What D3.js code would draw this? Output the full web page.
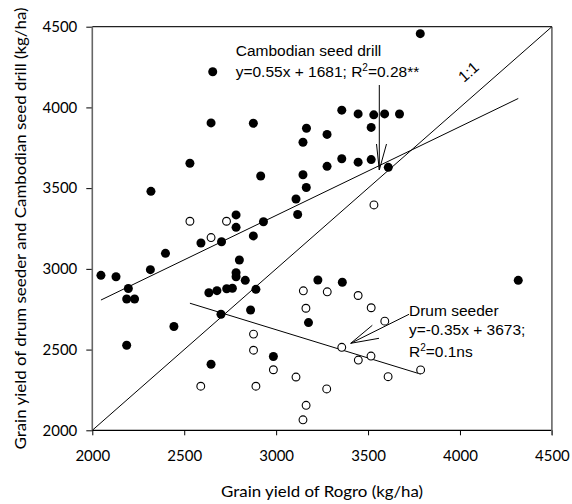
<!DOCTYPE html>
<html>
<head>
<meta charset="utf-8">
<script src="https://cdn.jsdelivr.net/npm/d3@7"></script>
<style>
  body { margin: 0; background: #fff; }
  svg { display: block; }
  .tick text { font-family: Lato, sans-serif; font-size: 15px; fill: #000; }
  .title { font-family: Lato, sans-serif; font-size: 16px; fill: #000; }
  .note { font-family: "Liberation Sans", Arial, sans-serif; font-size: 15.5px; fill: #000; }
</style>
</head>
<body>
<div class="scatter"></div>
<script>
(function() {
  'use strict';

  // Cambodian seed drill (filled) vs Rogro
  var drillX = [2655, 2646, 2876, 3165, 3146, 2531, 2916, 3146, 3164, 2319,
                3108, 3117, 2782, 2782, 2931, 2876, 2703, 2591, 2398, 2316,
                2047, 2129, 2196, 2187, 2230, 2800, 2782, 2782, 2832, 2634,
                2678, 2731, 2762, 2890, 2861, 2700, 2444, 2187, 2646, 2985,
                3227, 3360, 3176, 4317, 3784, 3357, 3446, 3531, 3590, 3671,
                3517, 3277, 3357, 3277, 3446, 3517, 3610];
  var drillY = [4221, 3904, 3902, 3871, 3784, 3654, 3575, 3583, 3504, 3480,
                3433, 3337, 3334, 3257, 3292, 3204, 3168, 3160, 3096, 2995,
                2960, 2951, 2878, 2813, 2813, 3055, 2976, 2951, 2929, 2852,
                2865, 2877, 2880, 2873, 2745, 2719, 2643, 2527, 2409, 2457,
                2931, 2917, 2667, 2929, 4457, 3983, 3960, 3954, 3960, 3959,
                3876, 3833, 3682, 3635, 3661, 3677, 3629];

  // Drum seeder (open) vs Rogro
  var drumX = [2531, 2730, 2646, 3532, 3148, 3278, 3446, 3517, 3162, 3591,
               3357, 3447, 3516, 3786, 3609, 3275, 3163, 3146, 2877, 2877,
               2590, 2890, 2985, 3108];
  var drumY = [3295, 3295, 3194, 3396, 2864, 2858, 2835, 2759, 2756, 2676,
               2514, 2435, 2460, 2374, 2332, 2256, 2155, 2065, 2596, 2496,
               2273, 2273, 2375, 2330];

  var xTicks = [2000, 2500, 3000, 3500, 4000, 4500];
  var yTicks = [2000, 2500, 3000, 3500, 4000, 4500];

  // fitted lines from the figure (slope, intercept)
  var drillFit = [0.55, 1681];
  var drumFit = [-0.35, 3673];

  var width = 572;
  var height = 504;
  var left = 92.3, top = 26.7, right = 551.9, bottom = 430.3;

  var svg = d3.select(".scatter").append("svg")
    .attr("width", width)
    .attr("height", height);

  var x = d3.scaleLinear().domain([2000, 4500]).range([left, right]);
  var y = d3.scaleLinear().domain([2000, 4500]).range([bottom, top]);

  // axes
  var xAxis = svg.append("g")
    .attr("transform", "translate(0," + bottom + ")")
    .call(d3.axisBottom(x).tickValues(xTicks).tickSize(5).tickPadding(15.4).tickFormat(d3.format("d")));
  xAxis.select(".domain").remove();
  xAxis.selectAll(".tick line").attr("stroke", "#000");

  var yAxis = svg.append("g")
    .attr("transform", "translate(" + left + ",0)")
    .call(d3.axisLeft(y).tickValues(yTicks).tickSize(6).tickPadding(9).tickFormat(d3.format("d")));
  yAxis.select(".domain").remove();
  yAxis.selectAll(".tick line").attr("stroke", "#000");

  // frame
  svg.append("line").attr("x1", left).attr("x2", right).attr("y1", bottom).attr("y2", bottom)
    .attr("stroke", "#000").attr("stroke-width", 1.2);
  svg.append("line").attr("x1", left).attr("x2", right).attr("y1", top).attr("y2", top)
    .attr("stroke", "#222").attr("stroke-width", 1.2);
  svg.append("line").attr("x1", left).attr("x2", left).attr("y1", top).attr("y2", bottom)
    .attr("stroke", "#666").attr("stroke-width", 1.6);
  svg.append("line").attr("x1", right).attr("x2", right).attr("y1", top).attr("y2", bottom + 5)
    .attr("stroke", "#666").attr("stroke-width", 1.6);

  var line = d3.line()
    .x(function(d) { return x(d[0]); })
    .y(function(d) { return y(d[1]); });

  // 1:1 line
  svg.append("path")
    .attr("d", line([[2000, 2000], [4500, 4500]]))
    .attr("fill", "none").attr("stroke", "#000").attr("stroke-width", 1);

  // regression lines over the range of each series
  function fitLine(xs, fit) {
    var ext = d3.extent(xs);
    return ext.map(function(v) { return [v, fit[0] * v + fit[1]]; });
  }

  svg.append("path")
    .attr("d", line(fitLine(drillX, drillFit)))
    .attr("fill", "none").attr("stroke", "#000").attr("stroke-width", 1);
  svg.append("path")
    .attr("d", line(fitLine(drumX, drumFit)))
    .attr("fill", "none").attr("stroke", "#000").attr("stroke-width", 1);

  // points
  svg.append("g").selectAll("circle")
    .data(drumX)
    .enter().append("circle")
    .attr("cx", function(d) { return x(d); })
    .attr("cy", function(d, i) { return y(drumY[i]); })
    .attr("r", 3.9)
    .attr("fill", "#fff")
    .attr("stroke", "#000")
    .attr("stroke-width", 1.1);

  svg.append("g").selectAll("circle")
    .data(drillX)
    .enter().append("circle")
    .attr("cx", function(d) { return x(d); })
    .attr("cy", function(d, i) { return y(drillY[i]); })
    .attr("r", 4.5)
    .attr("fill", "#000");

  // annotations
  svg.append("text").attr("class", "note").attr("x", 235.7).attr("y", 56)
    .text("Cambodian seed drill");
  var eq1 = svg.append("text").attr("class", "note").attr("x", 235.7).attr("y", 77);
  eq1.append("tspan").text("y=0.55x + 1681; R");
  eq1.append("tspan").attr("dy", -6).attr("font-size", 10).text("2");
  eq1.append("tspan").attr("dy", 6).text("=0.28**");

  svg.append("path")
    .attr("d", "M379.3,85L379.3,170M376.5,144L379.3,170L386.5,144")
    .attr("fill", "none").attr("stroke", "#000").attr("stroke-width", 1);

  svg.append("text").attr("class", "note")
    .attr("text-anchor", "middle")
    .attr("transform", "translate(472,76) rotate(-41.3)")
    .text("1:1");

  svg.append("text").attr("class", "note").attr("x", 409).attr("y", 315.5)
    .text("Drum seeder");
  svg.append("text").attr("class", "note").attr("x", 409).attr("y", 334.5)
    .text("y=-0.35x + 3673;");
  var eq2 = svg.append("text").attr("class", "note").attr("x", 409).attr("y", 356.5);
  eq2.append("tspan").text("R");
  eq2.append("tspan").attr("dy", -6).attr("font-size", 10).text("2");
  eq2.append("tspan").attr("dy", 6).text("=0.1ns");

  svg.append("path")
    .attr("d", "M409,314.3L350.7,343.3M372.3,325.3L350.7,343.3L379,338.3")
    .attr("fill", "none").attr("stroke", "#000").attr("stroke-width", 1);

  // axis titles
  svg.append("text").attr("class", "title")
    .attr("x", (left + right) / 2).attr("y", 497)
    .attr("text-anchor", "middle")
    .attr("textLength", 202).attr("lengthAdjust", "spacingAndGlyphs")
    .text("Grain yield of Rogro (kg/ha)");
  svg.append("text").attr("class", "title")
    .attr("text-anchor", "middle")
    .attr("transform", "translate(25.5," + (top + bottom) / 2 + ") rotate(-90)")
    .attr("textLength", 442).attr("lengthAdjust", "spacingAndGlyphs")
    .text("Grain yield of drum seeder and Cambodian seed drill (kg/ha)");
})();
</script>
</body>
</html>
